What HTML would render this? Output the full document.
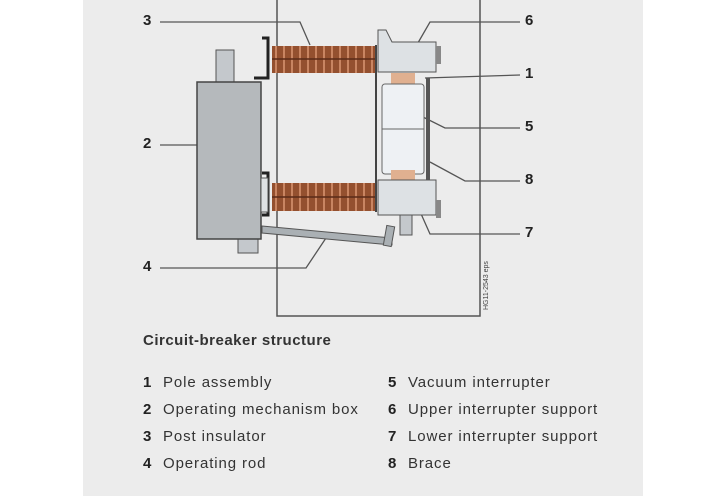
<!DOCTYPE html>
<html><head><style>
body{margin:0;width:719px;height:496px;background:#fff;overflow:hidden;position:relative;font-family:"Liberation Sans",sans-serif;}
.panel{position:absolute;left:83px;top:0;width:560px;height:496px;background:#ececec;}
.t{position:absolute;font-size:15px;color:#333;white-space:nowrap;letter-spacing:0.9px}
.n{position:absolute;font-size:15px;color:#222;font-weight:bold}
</style></head><body>
<div class="panel"></div>
<svg width="719" height="496" style="position:absolute;left:0;top:0">
<g fill="none" stroke="#555" stroke-width="1.5">
<polyline points="277,0 277,316 480,316 480,0"/>
</g>
<g fill="none" stroke="#555" stroke-width="1.3">
<polyline points="160,22 300,22 310,45"/>
<polyline points="160,145 213,145"/>
<polyline points="160,268 306,268 328,235"/>
<polyline points="520,22 430,22 415,48"/>
<polyline points="520,75 425,78"/>
<polyline points="520,128 445,128 415,113"/>
<polyline points="520,181 465,181 430,162"/>
<polyline points="520,234 430,234 418,207"/>
</g>
<rect x="216" y="50" width="18" height="32" fill="#c4c8cc" stroke="#555"/>
<rect x="238" y="239" width="20" height="14" fill="#c4c8cc" stroke="#555"/>
<rect x="197" y="82" width="64" height="157" fill="#b5b9bc" stroke="#444" stroke-width="1.5"/>
<polygon points="262,226 392,238 392,245 262,233" fill="#aab0b4" stroke="#555"/>
<rect x="385" y="226" width="8" height="20" fill="#aab0b4" stroke="#555" transform="rotate(10 389 236)"/>
<polyline points="262,38 268,38 268,78 254,78" fill="none" stroke="#222" stroke-width="3"/>
<polyline points="262,173 268,173 268,215 262,215" fill="none" stroke="#222" stroke-width="3"/>
<rect x="261" y="178" width="7" height="34" fill="#dfe2e4" stroke="#555"/>
<g>
<rect x="272" y="46" width="104" height="27" fill="#94502f"/>
<rect x="272" y="183" width="104" height="28" fill="#94502f"/>
<g stroke="#c98562" stroke-width="2">
<line x1="276" y1="46" x2="276" y2="73"/><line x1="284" y1="46" x2="284" y2="73"/><line x1="292" y1="46" x2="292" y2="73"/><line x1="300" y1="46" x2="300" y2="73"/><line x1="308" y1="46" x2="308" y2="73"/><line x1="316" y1="46" x2="316" y2="73"/><line x1="324" y1="46" x2="324" y2="73"/><line x1="332" y1="46" x2="332" y2="73"/><line x1="340" y1="46" x2="340" y2="73"/><line x1="348" y1="46" x2="348" y2="73"/><line x1="356" y1="46" x2="356" y2="73"/><line x1="364" y1="46" x2="364" y2="73"/><line x1="372" y1="46" x2="372" y2="73"/>
<line x1="276" y1="183" x2="276" y2="211"/><line x1="284" y1="183" x2="284" y2="211"/><line x1="292" y1="183" x2="292" y2="211"/><line x1="300" y1="183" x2="300" y2="211"/><line x1="308" y1="183" x2="308" y2="211"/><line x1="316" y1="183" x2="316" y2="211"/><line x1="324" y1="183" x2="324" y2="211"/><line x1="332" y1="183" x2="332" y2="211"/><line x1="340" y1="183" x2="340" y2="211"/><line x1="348" y1="183" x2="348" y2="211"/><line x1="356" y1="183" x2="356" y2="211"/><line x1="364" y1="183" x2="364" y2="211"/><line x1="372" y1="183" x2="372" y2="211"/>
</g>
<line x1="272" y1="59" x2="376" y2="59" stroke="#5a2a18" stroke-width="1.5"/>
<line x1="272" y1="197" x2="376" y2="197" stroke="#5a2a18" stroke-width="1.5"/>
</g>
<line x1="376" y1="45" x2="376" y2="212" stroke="#444" stroke-width="2"/>
<polygon points="378,30 386,30 392,42 436,42 436,72 378,72" fill="#dde1e4" stroke="#555"/>
<rect x="436" y="46" width="5" height="18" fill="#888"/>
<rect x="391" y="73" width="24" height="11" fill="#e0b090"/>
<rect x="382" y="84" width="42" height="90" rx="3" fill="#eef1f4" stroke="#666"/>
<line x1="382" y1="129" x2="424" y2="129" stroke="#666"/>
<rect x="391" y="170" width="24" height="10" fill="#e0b090"/>
<rect x="426" y="78" width="4" height="102" fill="#555"/>
<rect x="378" y="180" width="58" height="35" fill="#dde1e4" stroke="#555"/>
<rect x="436" y="200" width="5" height="18" fill="#888"/>
<rect x="400" y="215" width="12" height="20" fill="#c4c8cc" stroke="#555"/>
<text x="0" y="0" transform="translate(488,310) rotate(-90)" font-size="7" fill="#444" font-family="Liberation Sans">HG11-2543 eps</text>
</svg>
<div class="n" style="left:143px;top:12px">3</div>
<div class="n" style="left:143px;top:135px">2</div>
<div class="n" style="left:143px;top:258px">4</div>
<div class="n" style="left:525px;top:12px">6</div>
<div class="n" style="left:525px;top:65px">1</div>
<div class="n" style="left:525px;top:118px">5</div>
<div class="n" style="left:525px;top:171px">8</div>
<div class="n" style="left:525px;top:224px">7</div>
<div class="t" style="left:143px;top:332px;font-weight:bold;color:#333;letter-spacing:0.5px">Circuit-breaker structure</div>
<div class="n" style="left:143px;top:374px">1</div><div class="t" style="left:163px;top:374px">Pole assembly</div>
<div class="n" style="left:143px;top:401px">2</div><div class="t" style="left:163px;top:401px">Operating mechanism box</div>
<div class="n" style="left:143px;top:428px">3</div><div class="t" style="left:163px;top:428px">Post insulator</div>
<div class="n" style="left:143px;top:455px">4</div><div class="t" style="left:163px;top:455px">Operating rod</div>
<div class="n" style="left:388px;top:374px">5</div><div class="t" style="left:408px;top:374px">Vacuum interrupter</div>
<div class="n" style="left:388px;top:401px">6</div><div class="t" style="left:408px;top:401px">Upper interrupter support</div>
<div class="n" style="left:388px;top:428px">7</div><div class="t" style="left:408px;top:428px">Lower interrupter support</div>
<div class="n" style="left:388px;top:455px">8</div><div class="t" style="left:408px;top:455px">Brace</div>
</body></html>
